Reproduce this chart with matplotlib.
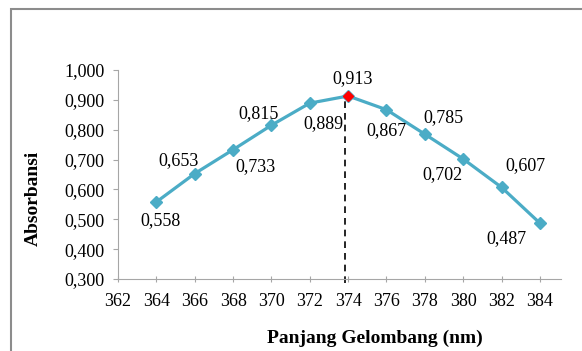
import matplotlib.pyplot as plt
from matplotlib.patches import Rectangle

plt.rcParams['font.family'] = ['Liberation Serif', 'DejaVu Serif']

# Absorbance scan
wavelength = [364, 366, 368, 370, 372, 374, 376, 378, 380, 382, 384]
absorbance = [0.558, 0.653, 0.733, 0.815, 0.889, 0.913, 0.867, 0.785, 0.702, 0.607, 0.487]
peak_idx = 5
# label offsets (pixels) relative to each point
offsets = [(4, -19), (-16, 13), (22, -17), (-13, 12), (14, -20), (4, 17),
           (0, -21), (19, 17), (-21, -16), (24, 22), (-33, -15)]

fig = plt.figure(figsize=(5.82, 3.51), dpi=100)
ax = fig.add_axes([118 / 582, 72 / 351, 443 / 582, 209 / 351])

# outer frame
fig.patches.append(Rectangle((11 / 582, -0.1), 1.2, 1.1 - 9 / 351,
                             transform=fig.transFigure, fill=False,
                             edgecolor='#8c8c8c', linewidth=1.5))

ax.plot(wavelength, absorbance, color='#4bacc6', lw=2.3, marker='D',
        markersize=6.5, markerfacecolor='#4bacc6', markeredgecolor='#4bacc6', zorder=3)
ax.plot(wavelength[peak_idx], absorbance[peak_idx], marker='D', color='red',
        markersize=5.5, zorder=4)
ax.plot([wavelength[peak_idx] - 0.15] * 2, [0.285, absorbance[peak_idx] - 0.012],
        color='black', lw=1.2, ls=(0, (4, 3)), zorder=2, clip_on=False)

for x, y, (dx, dy) in zip(wavelength, absorbance, offsets):
    ax.annotate(('%.3f' % y).replace('.', ','), (x, y), xytext=(dx, dy),
                textcoords='offset pixels', ha='center', va='center', fontsize=13)

ax.set_xlim(362, 385.1)
ax.set_ylim(0.3, 1.0)
ax.set_xticks(range(362, 385, 2))
ax.set_yticks([0.3 + 0.1 * i for i in range(8)])
ax.set_yticklabels([('%.3f' % (0.3 + 0.1 * i)).replace('.', ',') for i in range(8)])
for s in ['top', 'right']:
    ax.spines[s].set_visible(False)
for s in ['left', 'bottom']:
    ax.spines[s].set_color('#a6a6a6')
ax.tick_params(colors='#a6a6a6', labelcolor='black', labelsize=13)
ax.tick_params(axis='x', length=5, pad=7.5, direction='inout')
ax.tick_params(axis='y', length=3.5, pad=6)

fig.text(0.058, 0.436, 'Absorbansi', rotation=90, ha='center', va='center',
         fontsize=14, fontweight='bold')
fig.text(0.644, 0.037, 'Panjang Gelombang (nm)', ha='center', va='center',
         fontsize=14, fontweight='bold')

fig.savefig('out.png', dpi=100)
